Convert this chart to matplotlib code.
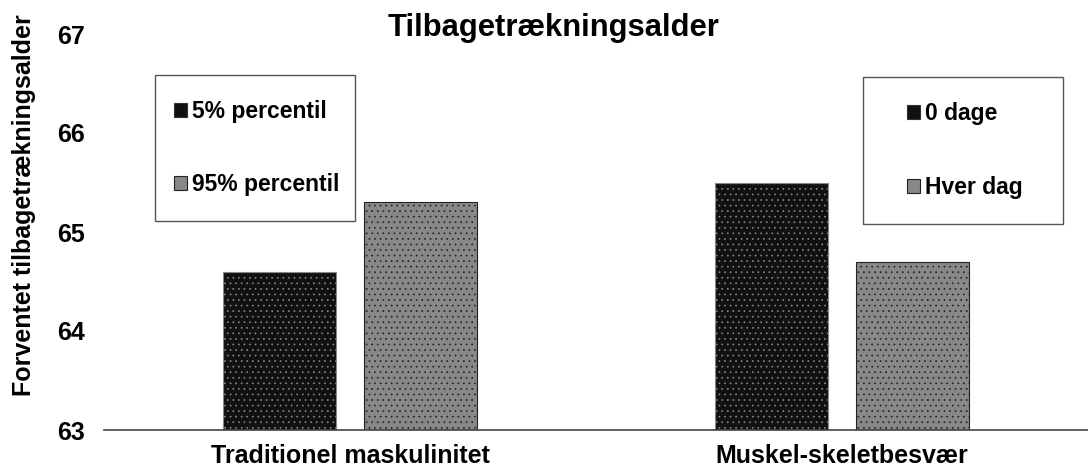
import matplotlib.pyplot as plt
import matplotlib as mpl
from matplotlib.patches import Patch, Rectangle
import numpy as np

plt.rcParams['font.family'] = ['Liberation Sans', 'DejaVu Sans']
plt.rcParams['font.weight'] = 'bold'
plt.rcParams['hatch.linewidth'] = 0.5

categories = ["Traditionel maskulinitet", "Muskel-skeletbesvær"]
low_values = [64.6, 65.5]    # 5% percentil / 0 dage
high_values = [65.3, 64.7]   # 95% percentil / Hver dag
legend_labels = [["5% percentil", "95% percentil"], ["0 dage", "Hver dag"]]
yticks = [63, 64, 65, 66, 67]

fig = plt.figure(figsize=(10.88, 4.70), dpi=100)
ax = fig.add_axes([104 / 1088, 40 / 470, 984 / 1088, 396 / 470])

x = np.arange(len(categories))
w = 0.23
off = 0.144
mpl.rcParams['hatch.color'] = '#2e2e2e'
ax.bar(x - off, np.array(low_values) - 63, w, bottom=63, color='#111111',
       edgecolor='#888888', linewidth=0.8, hatch='...')
mpl.rcParams['hatch.color'] = '#505050'
ax.bar(x + off, np.array(high_values) - 63, w, bottom=63, color='#888888',
       edgecolor='#222222', linewidth=0.8, hatch='...')

ax.set_xlim(-0.5, 1.5)
ax.set_ylim(63, 67)
ax.set_yticks(yticks)
ax.set_yticklabels([str(t) for t in yticks], fontsize=18, fontweight='bold')
ax.set_xticks(x)
ax.set_xticklabels(categories, fontsize=18, fontweight='bold')
ax.tick_params(axis='both', length=0)
ax.tick_params(axis='y', pad=14)
ax.tick_params(axis='x', pad=10)
for s in ['top', 'right', 'left']:
    ax.spines[s].set_visible(False)
ax.spines['bottom'].set_color('#444444')
ax.spines['bottom'].set_linewidth(1.2)

ax.set_ylabel("Forventet tilbagetrækningsalder", fontsize=18, fontweight='bold')
ax.yaxis.set_label_coords(-68 / 984, (430 - 205) / 396)
fig.text(554 / 1088, 1 - 28 / 470, "Tilbagetrækningsalder", ha='center', va='center',
         fontsize=22.3, fontweight='bold')

# two separate legend boxes
boxes = [(155, 75, 355, 221), (863, 77, 1063, 224)]
for (x0, y0, x1, y1), labels in zip(boxes, legend_labels):
    fig.patches.append(Rectangle((x0 / 1088, 1 - y1 / 470), (x1 - x0) / 1088, (y1 - y0) / 470,
                                 transform=fig.transFigure, facecolor='white',
                                 edgecolor='#555555', linewidth=1.0, zorder=3))
    handles = [Patch(facecolor='#111111', edgecolor='#333333', linewidth=0.8),
               Patch(facecolor='#888888', edgecolor='#222222', linewidth=0.8)]
    cx = (x0 + x1) / 2 / 1088 + 2 / 1088
    cy = 1 - (y0 + y1) / 2 / 470
    leg = fig.legend(handles, labels, loc='center', bbox_to_anchor=(cx, cy),
                     frameon=False, fontsize=16.5, handlelength=0.55, handleheight=0.55,
                     handletextpad=0.25, labelspacing=2.2)
    leg.set_zorder(4)
    for t in leg.get_texts():
        t.set_fontweight('bold')

fig.savefig("out.png", dpi=100)
